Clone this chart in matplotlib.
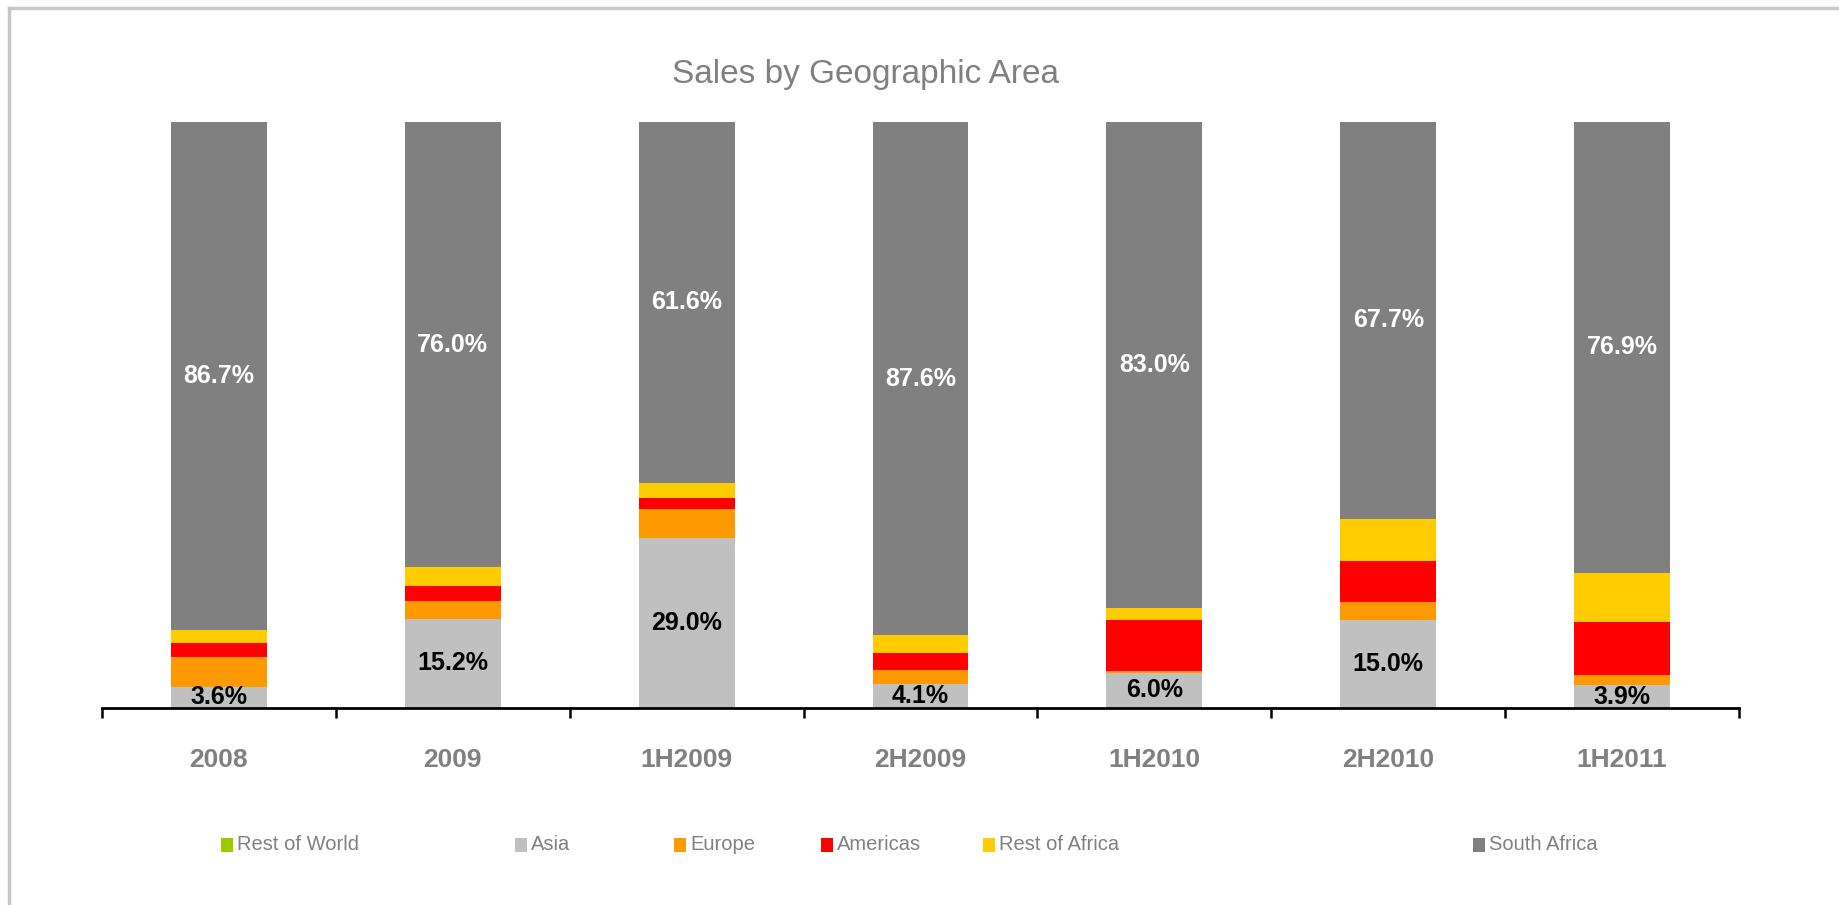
import numpy as np
import matplotlib
matplotlib.use("Agg")
import matplotlib.pyplot as plt
from matplotlib.patches import Rectangle
from matplotlib.lines import Line2D

plt.rcParams['font.family'] = ['Liberation Sans Narrow', 'Liberation Sans', 'DejaVu Sans']

# Data (share of sales, %)
categories = ["2008", "2009", "1H2009", "2H2009", "1H2010", "2H2010", "1H2011"]
rest_of_world = [0.0, 0.0, 0.0, 0.0, 0.0, 0.0, 0.0]
asia = [3.6, 15.2, 29.0, 4.1, 6.0, 15.0, 3.9]
europe = [5.1, 3.1, 5.0, 2.4, 0.3, 3.1, 1.7]
americas = [2.4, 2.5, 1.8, 2.9, 8.7, 7.0, 9.0]
rest_of_africa = [2.2, 3.2, 2.6, 3.0, 2.0, 7.2, 8.5]
south_africa = [86.7, 76.0, 61.6, 87.6, 83.0, 67.7, 76.9]

series = [
    ("Rest of World", rest_of_world, "#99CC00"),
    ("Asia", asia, "#C0C0C0"),
    ("Europe", europe, "#FF9900"),
    ("Americas", americas, "#FF0000"),
    ("Rest of Africa", rest_of_africa, "#FFCC00"),
    ("South Africa", south_africa, "#808080"),
]

W, H = 1839, 905
fig = plt.figure(figsize=(W / 100, H / 100), dpi=100)
ax = fig.add_axes([102 / W, 1 - 708 / H, 1637 / W, 586 / H])

x = np.arange(len(categories))
bottom = np.zeros(len(categories))
bars = {}
for name, vals, col in series:
    vals = np.array(vals)
    bars[name] = ax.bar(x, vals, 0.41, bottom=bottom, color=col, linewidth=0)
    bottom += vals

# labels only on Asia and South Africa segments
ax.bar_label(bars["Asia"], labels=[f"{v:.1f}%" for v in asia], label_type="center",
             color="black", fontsize=18, fontweight="bold")
ax.bar_label(bars["South Africa"], labels=[f"{v:.1f}%" for v in south_africa],
             label_type="center", color="white", fontsize=18, fontweight="bold")

ax.set_xlim(-0.5, len(categories) - 0.5)
ax.set_ylim(0, 100)
for s in ["top", "right", "left"]:
    ax.spines[s].set_visible(False)
ax.spines["bottom"].set_linewidth(2)
ax.set_yticks([])
ax.set_xticks(x)
ax.set_xticklabels(categories, fontsize=19, fontweight="bold", color="#808080")
ax.tick_params(axis="x", which="major", length=0, pad=29)
ax.set_xticks(np.arange(len(categories) + 1) - 0.5, minor=True)
ax.tick_params(axis="x", which="minor", length=7.5, width=1.8, direction="out")

# title
fig.text(865 / W, 1 - 83 / H, "Sales by Geographic Area", ha="center", va="baseline",
         fontsize=24, color="#808080")

# legend, laid out like the original
legend_x = [221, 515, 674, 821, 983, 1473]
for (name, vals, col), lx in zip(series, legend_x):
    fig.add_artist(Rectangle((lx / W, 1 - 852 / H), 12 / W, 14 / H,
                             transform=fig.transFigure, color=col, lw=0))
    fig.text((lx + 16) / W, 1 - 845 / H, name, ha="left", va="center",
             fontsize=14.5, color="#808080")

# frame lines on left and top
fig.add_artist(Line2D([8.5 / W, 8.5 / W], [0, 1 - 8 / H], transform=fig.transFigure,
                      color="#C8C8C8", lw=2.5))
fig.add_artist(Line2D([8.5 / W, 1], [1 - 8 / H, 1 - 8 / H], transform=fig.transFigure,
                      color="#C8C8C8", lw=2.5))

fig.savefig("out.png", dpi=100)
